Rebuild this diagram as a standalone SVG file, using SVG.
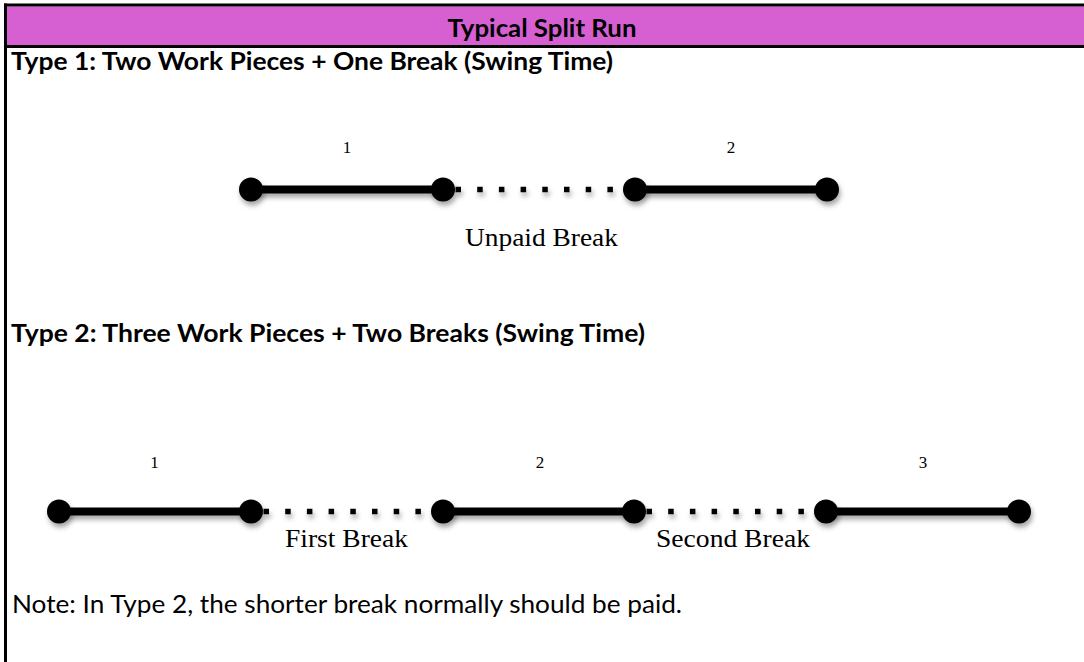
<svg xmlns="http://www.w3.org/2000/svg" width="1084" height="662" viewBox="0 0 1084 662">
  <style>
    .head { font-family: Lato, "Open Sans", "Liberation Sans", sans-serif; font-weight: bold; font-size: 25px; fill: #000; }
    .note { font-family: Lato, "Open Sans", "Liberation Sans", sans-serif; font-size: 25px; fill: #000; }
    .num { font-family: "Liberation Serif", "DejaVu Serif", serif; font-size: 17px; fill: #000; text-anchor: middle; }
    .lbl { font-family: "Liberation Serif", "DejaVu Serif", serif; font-size: 26px; fill: #000; text-anchor: middle; }
    .work { stroke: #000; stroke-width: 8; fill: none; }
    .brk { stroke: #000; stroke-width: 5.5; stroke-dasharray: 5.5 16.2; fill: none; }
    .pt { fill: #000; }
  </style>
  <defs>
    <filter id="shadow" x="-5%" y="-50%" width="110%" height="200%">
      <feDropShadow dx="1.5" dy="4" stdDeviation="2.5" flood-color="#000" flood-opacity="0.35"/>
    </filter>
  </defs>

  <rect x="0" y="0" width="1084" height="662" fill="#fff"/>

  <!-- frame and title bar -->
  <rect x="7" y="6.5" width="1077" height="39" fill="#D65FD1"/>
  <line x1="4" y1="5" x2="1084" y2="5" stroke="#000" stroke-width="3"/>
  <line x1="4" y1="46.5" x2="1084" y2="46.5" stroke="#000" stroke-width="3"/>
  <line x1="5.5" y1="3.5" x2="5.5" y2="662" stroke="#000" stroke-width="3"/>
  <text class="head" x="542" y="37" text-anchor="middle" textLength="189" lengthAdjust="spacingAndGlyphs">Typical Split Run</text>

  <!-- section headings -->
  <text class="head" x="11" y="70" textLength="602" lengthAdjust="spacingAndGlyphs">Type 1: Two Work Pieces + One Break (Swing Time)</text>
  <text class="head" x="11" y="342" textLength="634" lengthAdjust="spacingAndGlyphs">Type 2: Three Work Pieces + Two Breaks (Swing Time)</text>
  <text class="note" x="12" y="613" textLength="670" lengthAdjust="spacingAndGlyphs">Note: In Type 2, the shorter break normally should be paid.</text>

  <!-- work pieces (solid) and breaks (dotted) -->
  <g id="connectors" filter="url(#shadow)">
    <line class="work" x1="251" y1="189.5" x2="443" y2="189.5"/>
    <line class="brk" x1="455.5" y1="189.5" x2="623" y2="189.5"/>
    <line class="work" x1="635" y1="189.5" x2="827" y2="189.5"/>

    <line class="work" x1="59" y1="511.5" x2="251" y2="511.5"/>
    <line class="brk" x1="263.5" y1="511.5" x2="431" y2="511.5"/>
    <line class="work" x1="443" y1="511.5" x2="634" y2="511.5"/>
    <line class="brk" x1="646.5" y1="511.5" x2="814" y2="511.5"/>
    <line class="work" x1="826" y1="511.5" x2="1019" y2="511.5"/>
  </g>

  <!-- end points -->
  <g filter="url(#shadow)">
    <g id="t1-p1"><circle class="pt" cx="251" cy="189.5" r="12"/></g>
    <g id="t1-p2"><circle class="pt" cx="443" cy="189.5" r="12"/></g>
    <g id="t1-p3"><circle class="pt" cx="635" cy="189.5" r="12"/></g>
    <g id="t1-p4"><circle class="pt" cx="827" cy="189.5" r="12"/></g>

    <g id="t2-p1"><circle class="pt" cx="59" cy="511.5" r="12"/></g>
    <g id="t2-p2"><circle class="pt" cx="251" cy="511.5" r="12"/></g>
    <g id="t2-p3"><circle class="pt" cx="443" cy="511.5" r="12"/></g>
    <g id="t2-p4"><circle class="pt" cx="634" cy="511.5" r="12"/></g>
    <g id="t2-p5"><circle class="pt" cx="826" cy="511.5" r="12"/></g>
    <g id="t2-p6"><circle class="pt" cx="1019" cy="511.5" r="12"/></g>
  </g>

  <!-- piece numbers and break labels -->
  <g id="t1-labels">
    <text class="num" x="347" y="153">1</text>
    <text class="num" x="731" y="153">2</text>
    <text class="lbl" x="541.5" y="246" textLength="153" lengthAdjust="spacingAndGlyphs">Unpaid Break</text>
  </g>
  <g id="t2-labels">
    <text class="num" x="154.5" y="468">1</text>
    <text class="num" x="540" y="468">2</text>
    <text class="num" x="923" y="468">3</text>
    <text class="lbl" x="346.5" y="547" textLength="123" lengthAdjust="spacingAndGlyphs">First Break</text>
    <text class="lbl" x="733" y="547" textLength="154" lengthAdjust="spacingAndGlyphs">Second Break</text>
  </g>
</svg>
